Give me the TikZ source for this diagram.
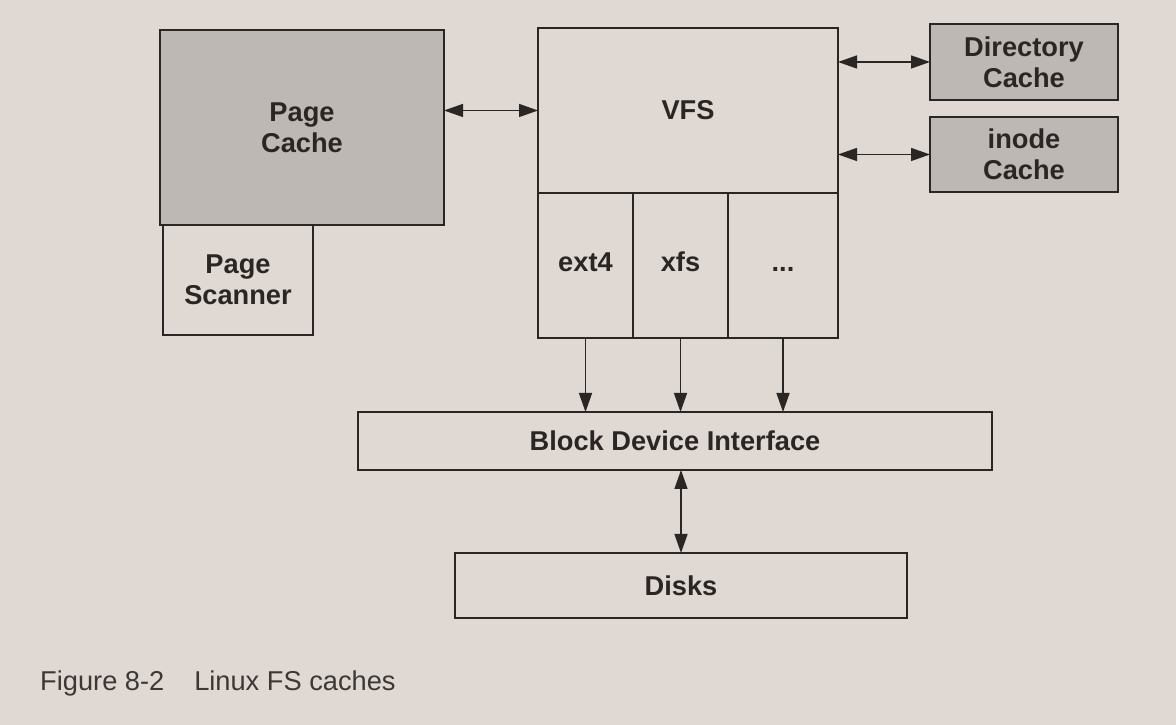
\documentclass[tikz,border=0pt]{standalone}
\usepackage{fontspec}
\setmainfont{Liberation Sans}
\usepackage{xcolor}
\usepackage{tikz}
\usetikzlibrary{arrows.meta,positioning}
\definecolor{pagebg}{RGB}{224,216,210}
\definecolor{cachegray}{RGB}{190,184,181}
\definecolor{inkline}{RGB}{42,38,36}
\definecolor{captionink}{RGB}{60,56,54}

\begin{document}
\begin{tikzpicture}[
box/.style={draw=inkline, line width=0.9pt, minimum width=#1, outer sep=0pt, align=center, font=\fontsize{15.5}{17.5}\selectfont\bfseries, text=inkline, inner sep=0pt},
box/.default=3cm,
cbox/.style={box=#1, fill=cachegray},
cbox/.default=3cm,
fsbox/.style={box=#1, minimum height=2.9cm},
fsbox/.default=1.9cm,
dual/.style={{Triangle[length=3.8mm,width=2.6mm]}-{Triangle[length=3.8mm,width=2.6mm]}, line width=0.8pt, inkline},
down/.style={-{Triangle[length=3.8mm,width=2.6mm]}, line width=0.8pt, inkline}
]
\useasboundingbox[fill=pagebg] (0,0) rectangle (23.52,14.5);

\node[cbox=5.68cm, minimum height=3.9cm] (cache) at (6.04,11.95) {Page\\Cache};
\node[box=3.0cm, minimum height=2.2cm, anchor=north west] (scanner) at ([xshift=0.06cm]cache.south west) {Page\\Scanner};

\node[box=6.0cm, minimum height=3.3cm] (vfs) at (13.76,12.29) {VFS};
\node[fsbox, anchor=north west] (ext4) at (vfs.south west) {\strut ext4};
\node[fsbox, right=0pt of ext4] (xfs) {\strut xfs};
\node[fsbox=2.2cm, right=0pt of xfs] (others) {\strut ...};

\node[cbox=3.76cm, minimum height=1.52cm] (dcache) at (20.48,13.26) {Directory\\Cache};
\node[cbox=3.76cm, minimum height=1.5cm] (icache) at (20.48,11.41) {inode\\Cache};

\node[box=12.68cm, minimum height=1.16cm] (bdi) at (13.5,5.68) {Block Device Interface};
\node[box=9.04cm, minimum height=1.3cm] (disks) at (13.62,2.79) {Disks};

\node[anchor=west, font=\fontsize{15.5}{18}\selectfont, text=captionink] (caption) at (0.68,0.84) {Figure 8-2\hspace{1.1em}Linux FS caches};

\draw[dual] (cache.east |- vfs.west) -- (vfs.west);
\draw[dual] (vfs.east |- dcache.west) -- (dcache.west);
\draw[dual] (vfs.east |- icache.west) -- (icache.west);
\draw[down] (ext4.south) -- (ext4.south |- bdi.north);
\draw[down] (xfs.south) -- (xfs.south |- bdi.north);
\draw[down] (others.south) -- (others.south |- bdi.north);
\draw[dual] (bdi.south -| disks.north) -- (disks.north);
\end{tikzpicture}
\end{document}
